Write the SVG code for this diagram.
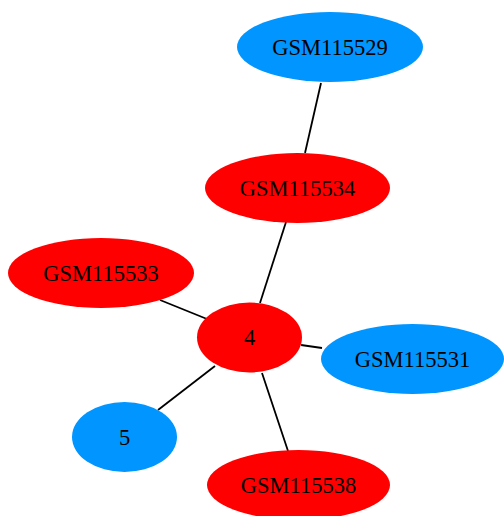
<svg xmlns="http://www.w3.org/2000/svg" width="504" height="516" viewBox="0 0 504 516">
<style>
.red{fill:#ff0000}
.blue{fill:#0095ff}
text{font-family:"Liberation Serif","Times New Roman",serif;font-size:22.5px;fill:#000;text-anchor:middle}
#edges line{stroke:#000;stroke-width:1.8}
</style>
<rect width="504" height="516" fill="#fff"/>
<g id="edges">
<line x1="321" y1="83" x2="305" y2="153"/>
<line x1="286" y1="222" x2="260" y2="303"/>
<line x1="160" y1="300" x2="207" y2="319"/>
<line x1="301" y1="345" x2="322" y2="348"/>
<line x1="215" y1="366" x2="158" y2="410"/>
<line x1="262" y1="373" x2="288" y2="451"/>
</g>
<g id="GSM115529"><ellipse class="blue" cx="330" cy="47" rx="93" ry="35"/><text x="330" y="54.5">GSM115529</text></g>
<g id="GSM115534"><ellipse class="red" cx="297.5" cy="188" rx="92.5" ry="35"/><text x="297.5" y="195.5">GSM115534</text></g>
<g id="GSM115533"><ellipse class="red" cx="101" cy="273" rx="93" ry="35"/><text x="101" y="280.5">GSM115533</text></g>
<g id="n4"><ellipse class="red" cx="249.5" cy="337.5" rx="52.5" ry="35"/><text x="249.5" y="345">4</text></g>
<g id="GSM115531"><ellipse class="blue" cx="412.5" cy="359" rx="91.5" ry="35"/><text x="412.5" y="366.5">GSM115531</text></g>
<g id="n5"><ellipse class="blue" cx="124.5" cy="437" rx="52.5" ry="35"/><text x="124.5" y="444.5">5</text></g>
<g id="GSM115538"><ellipse class="red" cx="298.5" cy="485" rx="91.5" ry="35"/><text x="298.5" y="492.5">GSM115538</text></g>
</svg>
